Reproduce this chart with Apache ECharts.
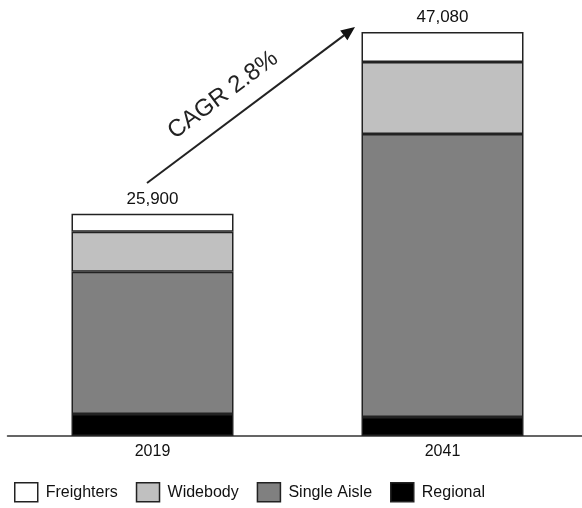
<!DOCTYPE html>
<html>
<head>
<meta charset="utf-8">
<script src="https://cdn.jsdelivr.net/npm/echarts@6/dist/echarts.min.js"></script>
<style>
html,body{margin:0;padding:0;background:#fff;overflow:hidden;width:582px;height:508px;}
#chart{width:590px;height:508px;}
</style>
</head>
<body>
<div id="chart"></div>
<script>
var categories = ['2019', '2041'];
var regional = [2570, 2210];
var singleAisle = [16560, 32980];
var widebody = [4670, 8390];
var freighters = [2100, 3500];
var totals = [25900, 47080];
var totalLabels = ['25,900', '47,080'];
var cagrText = 'CAGR 2.8%';

var FONT = '"Liberation Sans", Arial, sans-serif';
var border = '#222';
function mk(name, data, color, extra) {
  var s = {
    name: name, type: 'bar', stack: 'total', data: data, barWidth: 162,
    itemStyle: { color: color, borderColor: border, borderWidth: 1.5 },
    emphasis: { disabled: true }
  };
  if (extra) Object.assign(s, extra);
  return s;
}
var chart = echarts.init(document.getElementById('chart'), null, { renderer: 'canvas' });
chart.setOption({
  animation: false,
  textStyle: { fontFamily: FONT },
  grid: { left: 7.5, width: 580, top: 7, bottom: 72, containLabel: false },
  xAxis: {
    type: 'category', data: categories,
    axisLine: { lineStyle: { color: '#333', width: 1.5 } },
    axisTick: { show: false },
    axisLabel: { color: '#111', fontSize: 16, fontFamily: FONT, margin: 8 }
  },
  yAxis: { type: 'value', min: 0, max: 50000, show: false, splitLine: { show: false } },
  legend: {
    data: ['Freighters', 'Widebody', 'Single Aisle', 'Regional'],
    left: 9, top: 477, itemWidth: 23, itemHeight: 19, itemGap: 18,
    icon: 'rect',
    itemStyle: { borderColor: border, borderWidth: 1.5 },
    textStyle: { fontSize: 16, color: '#111', fontFamily: FONT, padding: [0, 0, 0, 3] }
  },
  series: [
    mk('Regional', regional, '#000000'),
    mk('Single Aisle', singleAisle, '#808080'),
    mk('Widebody', widebody, '#c0c0c0'),
    mk('Freighters', freighters, '#ffffff', {
      label: {
        show: true, position: 'top', distance: 6, color: '#111', fontSize: 17, fontFamily: FONT,
        formatter: function (p) { return totalLabels[p.dataIndex]; }
      }
    })
  ],
  graphic: [
    { type: 'line', shape: { x1: 147, y1: 183, x2: 344, y2: 35.4 }, style: { stroke: '#222', lineWidth: 2 } },
    { type: 'polygon', shape: { points: [[355, 27], [347.4, 40.2], [340.2, 30.6]] }, style: { fill: '#111' } },
    { type: 'text', x: 223, y: 95, rotation: 0.6435,
      style: { text: cagrText, font: '24px ' + FONT, fill: '#222', textAlign: 'center', textVerticalAlign: 'middle' } }
  ]
});
</script>
</body>
</html>
